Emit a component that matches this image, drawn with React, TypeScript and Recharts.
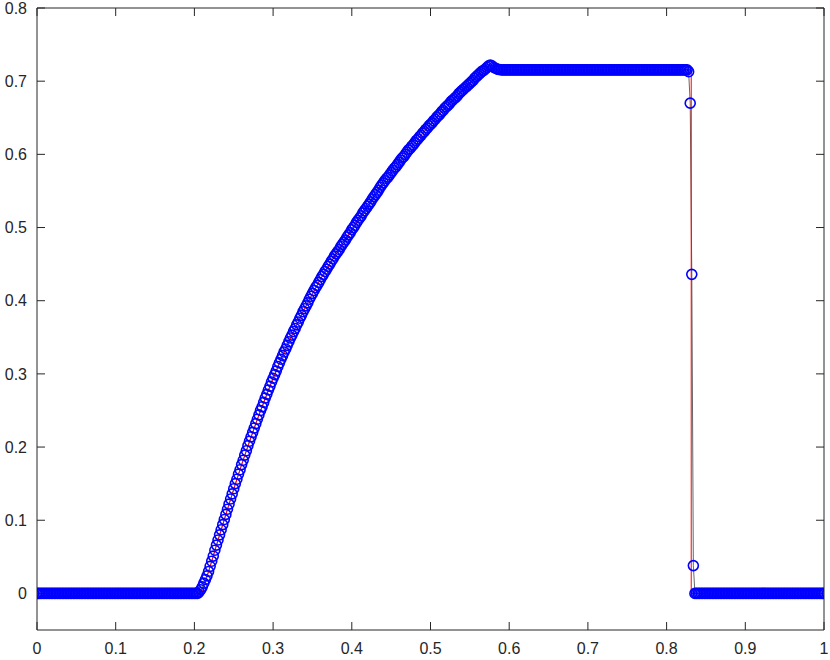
import React from "react"
import { ScatterChart, Scatter, XAxis, YAxis } from "recharts"

// cell values of the numerical solution (mesh spacing 0.002, x = 0 .. 1)
// x = 0 .. 0.204
const leftState = [
  0, 0, 0, 0, 0, 0, 0, 0, 0, 0,
  0, 0, 0, 0, 0, 0, 0, 0, 0, 0,
  0, 0, 0, 0, 0, 0, 0, 0, 0, 0,
  0, 0, 0, 0, 0, 0, 0, 0, 0, 0,
  0, 0, 0, 0, 0, 0, 0, 0, 0, 0,
  0, 0, 0, 0, 0, 0, 0, 0, 0, 0,
  0, 0, 0, 0, 0, 0, 0, 0, 0, 0,
  0, 0, 0, 0, 0, 0, 0, 0, 0, 0,
  0, 0, 0, 0, 0, 0, 0, 0, 0, 0,
  0, 0, 0, 0, 0, 0, 0, 0, 0, 0,
  0, 0, 0,
]

// x = 0.206 .. 0.590
const rarefaction = [
  0.002, 0.005, 0.009,
  0.014, 0.019, 0.024, 0.030, 0.037,
  0.044, 0.051, 0.059, 0.066, 0.073,
  0.080, 0.087, 0.094, 0.101, 0.108,
  0.115, 0.122, 0.129, 0.136, 0.143,
  0.150, 0.156, 0.163, 0.169, 0.176,
  0.182, 0.189, 0.195, 0.202, 0.208,
  0.214, 0.220, 0.226, 0.232, 0.238,
  0.244, 0.250, 0.255, 0.261, 0.267,
  0.272, 0.278, 0.283, 0.289, 0.294,
  0.299, 0.304, 0.310, 0.315, 0.320,
  0.325, 0.330, 0.334, 0.339, 0.344,
  0.349, 0.353, 0.358, 0.362, 0.367,
  0.371, 0.376, 0.380, 0.385, 0.389,
  0.393, 0.397, 0.402, 0.406, 0.410,
  0.414, 0.418, 0.421, 0.425, 0.429,
  0.433, 0.436, 0.440, 0.443, 0.447,
  0.450, 0.454, 0.457, 0.461, 0.464,
  0.467, 0.470, 0.474, 0.477, 0.480,
  0.483, 0.487, 0.490, 0.493, 0.497,
  0.500, 0.503, 0.507, 0.510, 0.513,
  0.516, 0.520, 0.523, 0.526, 0.529,
  0.532, 0.535, 0.539, 0.542, 0.545,
  0.548, 0.551, 0.555, 0.558, 0.561,
  0.564, 0.567, 0.569, 0.572, 0.575,
  0.578, 0.581, 0.583, 0.586, 0.589,
  0.592, 0.595, 0.597, 0.600, 0.603,
  0.606, 0.608, 0.611, 0.613, 0.616,
  0.619, 0.621, 0.624, 0.626, 0.629,
  0.631, 0.634, 0.636, 0.639, 0.641,
  0.643, 0.646, 0.648, 0.651, 0.653,
  0.655, 0.658, 0.660, 0.663, 0.665,
  0.667, 0.669, 0.672, 0.674, 0.676,
  0.678, 0.680, 0.683, 0.685, 0.687,
  0.689, 0.691, 0.693, 0.695, 0.697,
  0.699, 0.701, 0.704, 0.706, 0.708,
  0.710, 0.712, 0.714, 0.715, 0.717,
  0.719, 0.721, 0.722, 0.721, 0.719,
  0.718, 0.717, 0.716, 0.716, 0.7155,
]

// x = 0.592 .. 0.826
const plateau = [
  0.7155, 0.7155, 0.7155, 0.7155, 0.7155, 0.7155, 0.7155, 0.7155, 0.7155, 0.7155,
  0.7155, 0.7155, 0.7155, 0.7155, 0.7155, 0.7155, 0.7155, 0.7155, 0.7155, 0.7155,
  0.7155, 0.7155, 0.7155, 0.7155, 0.7155, 0.7155, 0.7155, 0.7155, 0.7155, 0.7155,
  0.7155, 0.7155, 0.7155, 0.7155, 0.7155, 0.7155, 0.7155, 0.7155, 0.7155, 0.7155,
  0.7155, 0.7155, 0.7155, 0.7155, 0.7155, 0.7155, 0.7155, 0.7155, 0.7155, 0.7155,
  0.7155, 0.7155, 0.7155, 0.7155, 0.7155, 0.7155, 0.7155, 0.7155, 0.7155, 0.7155,
  0.7155, 0.7155, 0.7155, 0.7155, 0.7155, 0.7155, 0.7155, 0.7155, 0.7155, 0.7155,
  0.7155, 0.7155, 0.7155, 0.7155, 0.7155, 0.7155, 0.7155, 0.7155, 0.7155, 0.7155,
  0.7155, 0.7155, 0.7155, 0.7155, 0.7155, 0.7155, 0.7155, 0.7155, 0.7155, 0.7155,
  0.7155, 0.7155, 0.7155, 0.7155, 0.7155, 0.7155, 0.7155, 0.7155, 0.7155, 0.7155,
  0.7155, 0.7155, 0.7155, 0.7155, 0.7155, 0.7155, 0.7155, 0.7155, 0.7155, 0.7155,
  0.7155, 0.7155, 0.7155, 0.7155, 0.7155, 0.7155, 0.7155, 0.7155,
]

// x = 0.828 .. 0.834
const shockCells = [0.713, 0.670, 0.436, 0.038]

// x = 0.836 .. 1
const rightState = [
  0, 0, 0, 0, 0, 0, 0, 0, 0, 0,
  0, 0, 0, 0, 0, 0, 0, 0, 0, 0,
  0, 0, 0, 0, 0, 0, 0, 0, 0, 0,
  0, 0, 0, 0, 0, 0, 0, 0, 0, 0,
  0, 0, 0, 0, 0, 0, 0, 0, 0, 0,
  0, 0, 0, 0, 0, 0, 0, 0, 0, 0,
  0, 0, 0, 0, 0, 0, 0, 0, 0, 0,
  0, 0, 0, 0, 0, 0, 0, 0, 0, 0,
  0, 0, 0,
]

// exact solution (red line)
const exactX = [0, 0.2095, 0.22, 0.24, 0.26, 0.28, 0.30, 0.32, 0.34, 0.36, 0.38, 0.40, 0.42, 0.44, 0.46, 0.48, 0.50, 0.52, 0.54, 0.56, 0.5715, 0.8313, 0.8313, 1]
const exactU = [0, 0, 0.037, 0.108, 0.176, 0.238, 0.294, 0.344, 0.389, 0.429, 0.464, 0.497, 0.529, 0.561, 0.589, 0.616, 0.641, 0.665, 0.687, 0.708, 0.7155, 0.7155, 0, 0]

const xTicks = [0, 0.1, 0.2, 0.3, 0.4, 0.5, 0.6, 0.7, 0.8, 0.9, 1]
const yTicks = [0, 0.1, 0.2, 0.3, 0.4, 0.5, 0.6, 0.7, 0.8]

const numericU = [...leftState, ...rarefaction, ...plateau, ...shockCells, ...rightState]
const cells = numericU.length - 1
const numeric = numericU.map((u, i) => ({ x: i / cells, y: u }))
const exact = exactX.map((x, i) => ({ x, y: exactU[i] }))

const axisColor = "#262626"
const tickStyle = { fill: axisColor, fontSize: 16, fontFamily: "'Liberation Sans', Arial, sans-serif" }

const Ring = (props: any) => {
  const { cx, cy } = props
  if (cx == null || cy == null) return <g />
  return <circle cx={cx} cy={cy} r={5} fill="none" stroke="#0000ff" strokeWidth={1.6} />
}

const Nothing = () => <g />

export default function App() {
  return (
    <div style={{ position: "absolute", left: 0, top: 0, background: "#fff" }}>
      <ScatterChart width={830} height={660} margin={{ top: 7, right: 5, bottom: 0, left: 0 }}>
        <XAxis
          dataKey="x"
          type="number"
          domain={[0, 1]}
          ticks={xTicks}
          interval={0}
          height={30}
          tickSize={-8}
          tickMargin={21}
          stroke={axisColor}
          tick={tickStyle}
          allowDataOverflow
        />
        <XAxis
          xAxisId="top"
          orientation="top"
          dataKey="x"
          type="number"
          domain={[0, 1]}
          ticks={xTicks}
          interval={0}
          height={1}
          tickSize={-8}
          stroke={axisColor}
          tickFormatter={() => ""}
          allowDataOverflow
        />
        <YAxis
          dataKey="y"
          type="number"
          domain={[-0.05, 0.8]}
          ticks={yTicks}
          interval={0}
          width={37}
          tickSize={-8}
          tickMargin={18}
          stroke={axisColor}
          tick={tickStyle}
          allowDataOverflow
        />
        <YAxis
          yAxisId="right"
          orientation="right"
          dataKey="y"
          type="number"
          domain={[-0.05, 0.8]}
          ticks={yTicks}
          interval={0}
          width={1}
          tickSize={-8}
          stroke={axisColor}
          tickFormatter={() => ""}
          allowDataOverflow
        />
        {/* thin black line through the numerical cells, under the exact solution */}
        <Scatter
          data={numeric}
          line={{ stroke: "#000000", strokeWidth: 0.6 }}
          shape={Nothing}
          isAnimationActive={false}
        />
        <Scatter
          data={exact}
          line={{ stroke: "#ff0000", strokeWidth: 1 }}
          shape={Nothing}
          isAnimationActive={false}
        />
        <Scatter data={numeric} shape={Ring} isAnimationActive={false} />
      </ScatterChart>
    </div>
  )
}
